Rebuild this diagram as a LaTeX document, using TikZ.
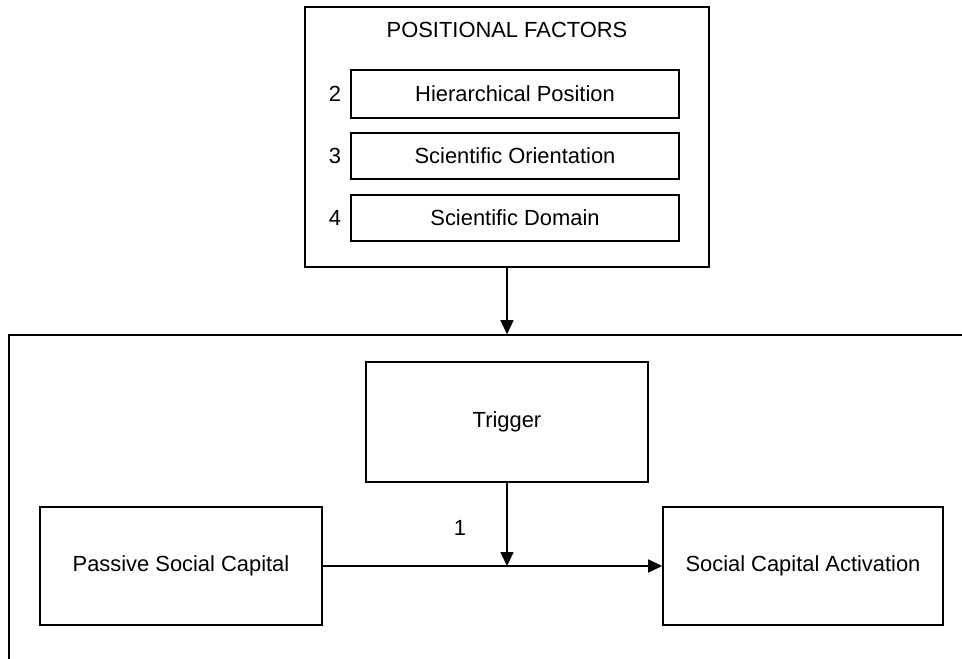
\documentclass[tikz,border=0pt]{standalone}
\usepackage{fontspec}
\setmainfont{Liberation Sans}
\usetikzlibrary{arrows.meta}
\begin{document}
\begin{tikzpicture}[x=1pt,y=-1pt,
  box/.style={draw, line width=1.6pt, rectangle, inner sep=0pt, align=center},
  lbl/.style={inner sep=0pt},
  conn/.style={line width=1.6pt, -{Triangle[length=14pt,width=13pt]}},
  font=\fontsize{21.9pt}{26pt}\selectfont]
\useasboundingbox (0,0) rectangle (962,659);
\clip (0,0) rectangle (962,659);
\fill[white] (0,0) rectangle (962,659);

% positional factors panel
\node[box, minimum width=404pt, minimum height=260pt] (pf) at (507,137) {};
\node[lbl] (title) at (507,30) {POSITIONAL FACTORS};
\node[box, minimum width=328pt, minimum height=48pt] (hp) at (515,94) {Hierarchical Position};
\node[box, minimum width=328pt, minimum height=46pt] (so) at (515,156) {Scientific Orientation};
\node[box, minimum width=328pt, minimum height=46pt] (sd) at (515,218) {Scientific Domain};
\node[lbl] (n2) at (335,94) {2};
\node[lbl] (n3) at (335,156) {3};
\node[lbl] (n4) at (335,218) {4};

% process frame, open past the page edges
\node[box, minimum width=1000pt, minimum height=400pt] (frame) at (509,535) {};

\node[box, minimum width=282pt, minimum height=120pt] (trigger) at (507,422) {Trigger};
\node[box, minimum width=282pt, minimum height=118pt] (passive) at (181,566) {Passive Social Capital};
\node[box, minimum width=280pt, minimum height=118pt] (act) at (803,566) {Social Capital Activation};
\node[lbl] (one) at (460,528) {1};

% connectors
\draw[conn] (pf.south) -- (pf.south |- frame.north);
\draw[conn] (passive.east) -- (act.west);
\draw[conn] (trigger.south) -- (trigger.south |- passive.east);
\end{tikzpicture}
\end{document}
